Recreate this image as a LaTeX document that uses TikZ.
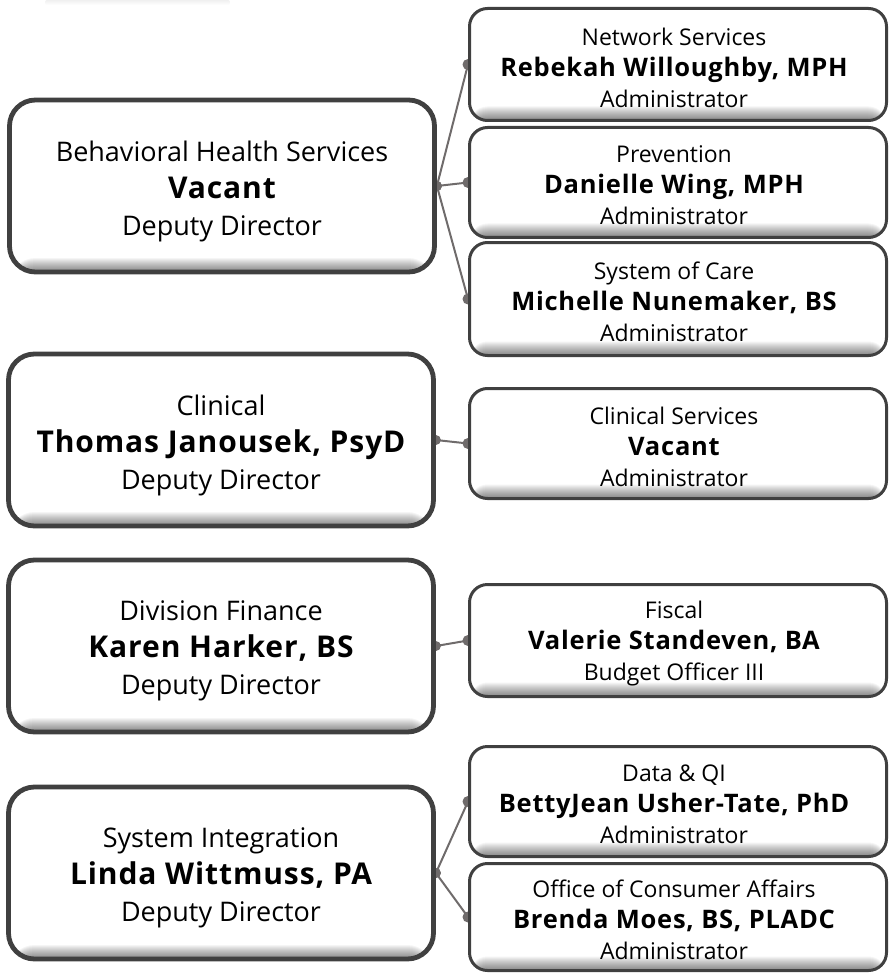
\documentclass[tikz,border=0pt]{standalone}
\usepackage{fontspec}
\setmainfont{Open Sans}
\usetikzlibrary{backgrounds}
\definecolor{edge}{HTML}{404040}
\definecolor{conn}{HTML}{6F6B6B}
\newcommand{\bigb}[1]{{\fontsize{30}{37}\selectfont\bfseries\addfontfeatures{LetterSpace=3}#1}}
\newcommand{\smallb}[1]{{\fontsize{25.5}{31}\selectfont\bfseries\addfontfeatures{LetterSpace=3}#1}}
\tikzset{
  basebox/.style={draw=edge, fill=white, rounded corners=#1, inner sep=0pt,
    path picture={
      \foreach \i in {1,...,14} {
        \fill[black, opacity=0.04]
          (path picture bounding box.south west) rectangle ([yshift=\i pt]path picture bounding box.south east);
      }
    }},
  bigbox/.style={basebox=26pt, line width=4.8pt, minimum width=425pt, minimum height=172pt},
  smallbox/.style={basebox=18pt, line width=3pt, minimum width=417pt, minimum height=#1},
  bigtext/.style={align=center, inner sep=0pt, yshift=-5pt, font=\fontsize{27}{37}\selectfont},
  smalltext/.style={align=center, inner sep=0pt, yshift=-3pt, xshift=-4pt, font=\fontsize{23}{31}\selectfont},
  link/.style={draw=conn, line width=2pt},
  enddot/.style={fill=conn}
}
\begin{document}
\begin{tikzpicture}[x=1pt, y=-1pt]
\useasboundingbox (0,0) rectangle (890,976);
\shade[top color=black!6, bottom color=white, rounded corners=2pt] (45,0) rectangle (230,5);

% left boxes
\node[bigbox, label={[bigtext]center:{Behavioral Health Services\\\bigb{Vacant}\\Deputy Director}}] (b1) at (222,186) {};
\node[bigbox, label={[bigtext]center:{Clinical\\\bigb{Thomas Janousek, PsyD}\\Deputy Director}}] (b2) at (221,440) {};
\node[bigbox, label={[bigtext]center:{Division Finance\\\bigb{Karen Harker, BS}\\Deputy Director}}] (b3) at (221,646) {};
\node[bigbox, label={[bigtext]center:{System Integration\\\bigb{Linda Wittmuss, PA}\\Deputy Director}}] (b4) at (221,873) {};

% right boxes
\node[smallbox=112pt, label={[smalltext]center:{Network Services\\\smallb{Rebekah Willoughby, MPH}\\Administrator}}] (r1) at (678,64.5) {};
\node[smallbox=110pt, label={[smalltext]center:{Prevention\\\smallb{Danielle Wing, MPH}\\Administrator}}] (r2) at (678,182.5) {};
\node[smallbox=113pt, label={[smalltext]center:{System of Care\\\smallb{Michelle Nunemaker, BS}\\Administrator}}] (r3) at (678,299) {};
\node[smallbox=110pt, label={[smalltext]center:{Clinical Services\\\smallb{Vacant}\\Administrator}}] (r4) at (678,443.5) {};
\node[smallbox=112pt, label={[smalltext]center:{Fiscal\\\smallb{Valerie Standeven, BA}\\Budget Officer III}}] (r5) at (678,640.5) {};
\node[smallbox=110pt, label={[smalltext]center:{Data \& QI\\\smallb{BettyJean Usher-Tate, PhD}\\Administrator}}] (r6) at (678,801.5) {};
\node[smallbox=107pt, label={[smalltext]center:{Office of Consumer Affairs\\\smallb{Brenda Moes, BS, PLADC}\\Administrator}}] (r7) at (678,917) {};

% connectors
\begin{scope}[on background layer]
  \foreach \a/\b in {b1/r1, b1/r2, b1/r3, b2/r4, b3/r5, b4/r6, b4/r7} {
    \draw[link] (\a.east) -- (\b.west);
    \fill[enddot] (\a.east) circle (5pt);
    \fill[enddot] (\b.west) circle (5.5pt);
  }
\end{scope}
\end{tikzpicture}
\end{document}
